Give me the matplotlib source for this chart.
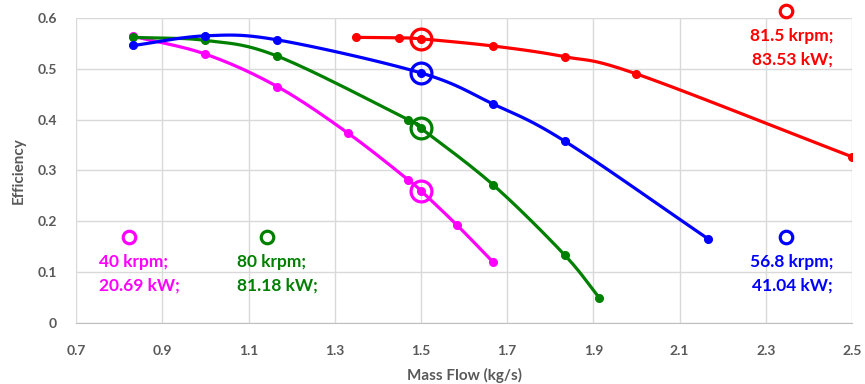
# Efficiency vs mass flow for four speed lines
import matplotlib.pyplot as plt
import numpy as np

# speed line data (mass flow kg/s, efficiency)
flow_40 = [0.833, 1.0, 1.167, 1.33, 1.47, 1.5, 1.583, 1.667]
eff_40 = [0.564, 0.529, 0.465, 0.374, 0.282, 0.26, 0.193, 0.12]

flow_80 = [0.833, 1.0, 1.167, 1.47, 1.5, 1.667, 1.833, 1.913]
eff_80 = [0.562, 0.556, 0.525, 0.400, 0.383, 0.272, 0.134, 0.050]

flow_568 = [0.833, 1.0, 1.167, 1.5, 1.667, 1.833, 2.167]
eff_568 = [0.546, 0.565, 0.557, 0.492, 0.431, 0.358, 0.165]

flow_815 = [1.35, 1.45, 1.5, 1.667, 1.833, 2.0, 2.5]
eff_815 = [0.562, 0.561, 0.559, 0.545, 0.524, 0.490, 0.327]

# design point of each line
design_flow = 1.5

# label text, position (x, y) of the small circle
labels = [
    ("40 krpm;\n20.69 kW;", "#FF00FF", 0.823, 0.169, "left"),
    ("80 krpm;\n81.18 kW;", "#008000", 1.143, 0.169, "left"),
    ("56.8 krpm;\n41.04 kW;", "#0000FF", 2.346, 0.169, "right"),
    ("81.5 krpm;\n83.53 kW;", "#FF0000", 2.346, 0.613, "right"),
]

def smooth(x, y, n=20):
    """Catmull-Rom curve through the points, like Excel's smoothed line"""
    p = np.column_stack([x, y])
    p = np.vstack([2*p[0]-p[1], p, 2*p[-1]-p[-2]])
    out = []
    t = np.linspace(0, 1, n, endpoint=False)[:, None]
    for i in range(1, len(p)-2):
        p0, p1, p2, p3 = p[i-1], p[i], p[i+1], p[i+2]
        seg = 0.5*((2*p1) + (-p0+p2)*t + (2*p0-5*p1+4*p2-p3)*t**2 + (-p0+3*p1-3*p2+p3)*t**3)
        out.append(seg)
    out.append(p[-2][None, :])
    out = np.vstack(out)
    return out[:, 0], out[:, 1]

plt.rcParams['font.family'] = ['Lato', 'DejaVu Sans']
fig = plt.figure(figsize=(8.65, 3.84), dpi=100)
ax = fig.add_axes([0.088, 0.159, 0.897, 0.794])

series = [
    (flow_40, eff_40, "#FF00FF"),
    (flow_80, eff_80, "#008000"),
    (flow_568, eff_568, "#0000FF"),
    (flow_815, eff_815, "#FF0000"),
]
for fx, fy, col in series:
    sx, sy = smooth(fx, fy)
    ax.plot(sx, sy, color=col, lw=2.3, zorder=3, solid_capstyle='round')
    ax.plot(fx, fy, 'o', color=col, ms=5.5, zorder=4)
    i = fx.index(design_flow)
    ax.plot(fx[i], fy[i], 'o', mfc='none', mec=col, ms=15, mew=2.3, zorder=5)

for txt, col, lx, ly, ha in labels:
    ax.plot(lx, ly, 'o', mfc='none', mec=col, ms=9, mew=2.3, zorder=5, clip_on=False)
    if ha == "left":
        tx = lx - 0.07
    else:
        tx = lx + 0.11
    ax.text(tx, ly - 0.033, txt, color=col, fontsize=12.5, fontweight='bold',
            ha=ha, va='top', linespacing=1.6, zorder=6)

ax.set_xlim(0.7, 2.5)
ax.set_ylim(0, 0.6)
ax.set_xticks(np.arange(0.7, 2.51, 0.2))
ax.set_xticklabels(["0.7", "0.9", "1.1", "1.3", "1.5", "1.7", "1.9", "2.1", "2.3", "2.5"])
ax.set_yticks(np.arange(0, 0.61, 0.1))
ax.set_yticklabels(["0", "0.1", "0.2", "0.3", "0.4", "0.5", "0.6"])
ax.grid(True, color="#D9D9D9", lw=1)
ax.set_axisbelow(True)
for s in ["top", "right", "left"]:
    ax.spines[s].set_visible(False)
ax.spines["bottom"].set_color("#BFBFBF")
ax.tick_params(axis='x', pad=16)
ax.tick_params(axis='y', pad=14)
ax.tick_params(length=0, colors="#595959", labelsize=10)
for lab in ax.get_xticklabels() + ax.get_yticklabels():
    lab.set_fontweight('bold')
ax.set_xlabel("Mass Flow (kg/s)", fontsize=11, fontweight='bold', color="#595959", labelpad=8)
ax.set_ylabel("Efficiency", fontsize=11, fontweight='bold', color="#595959", labelpad=8)

plt.savefig("out.png", dpi=100)
